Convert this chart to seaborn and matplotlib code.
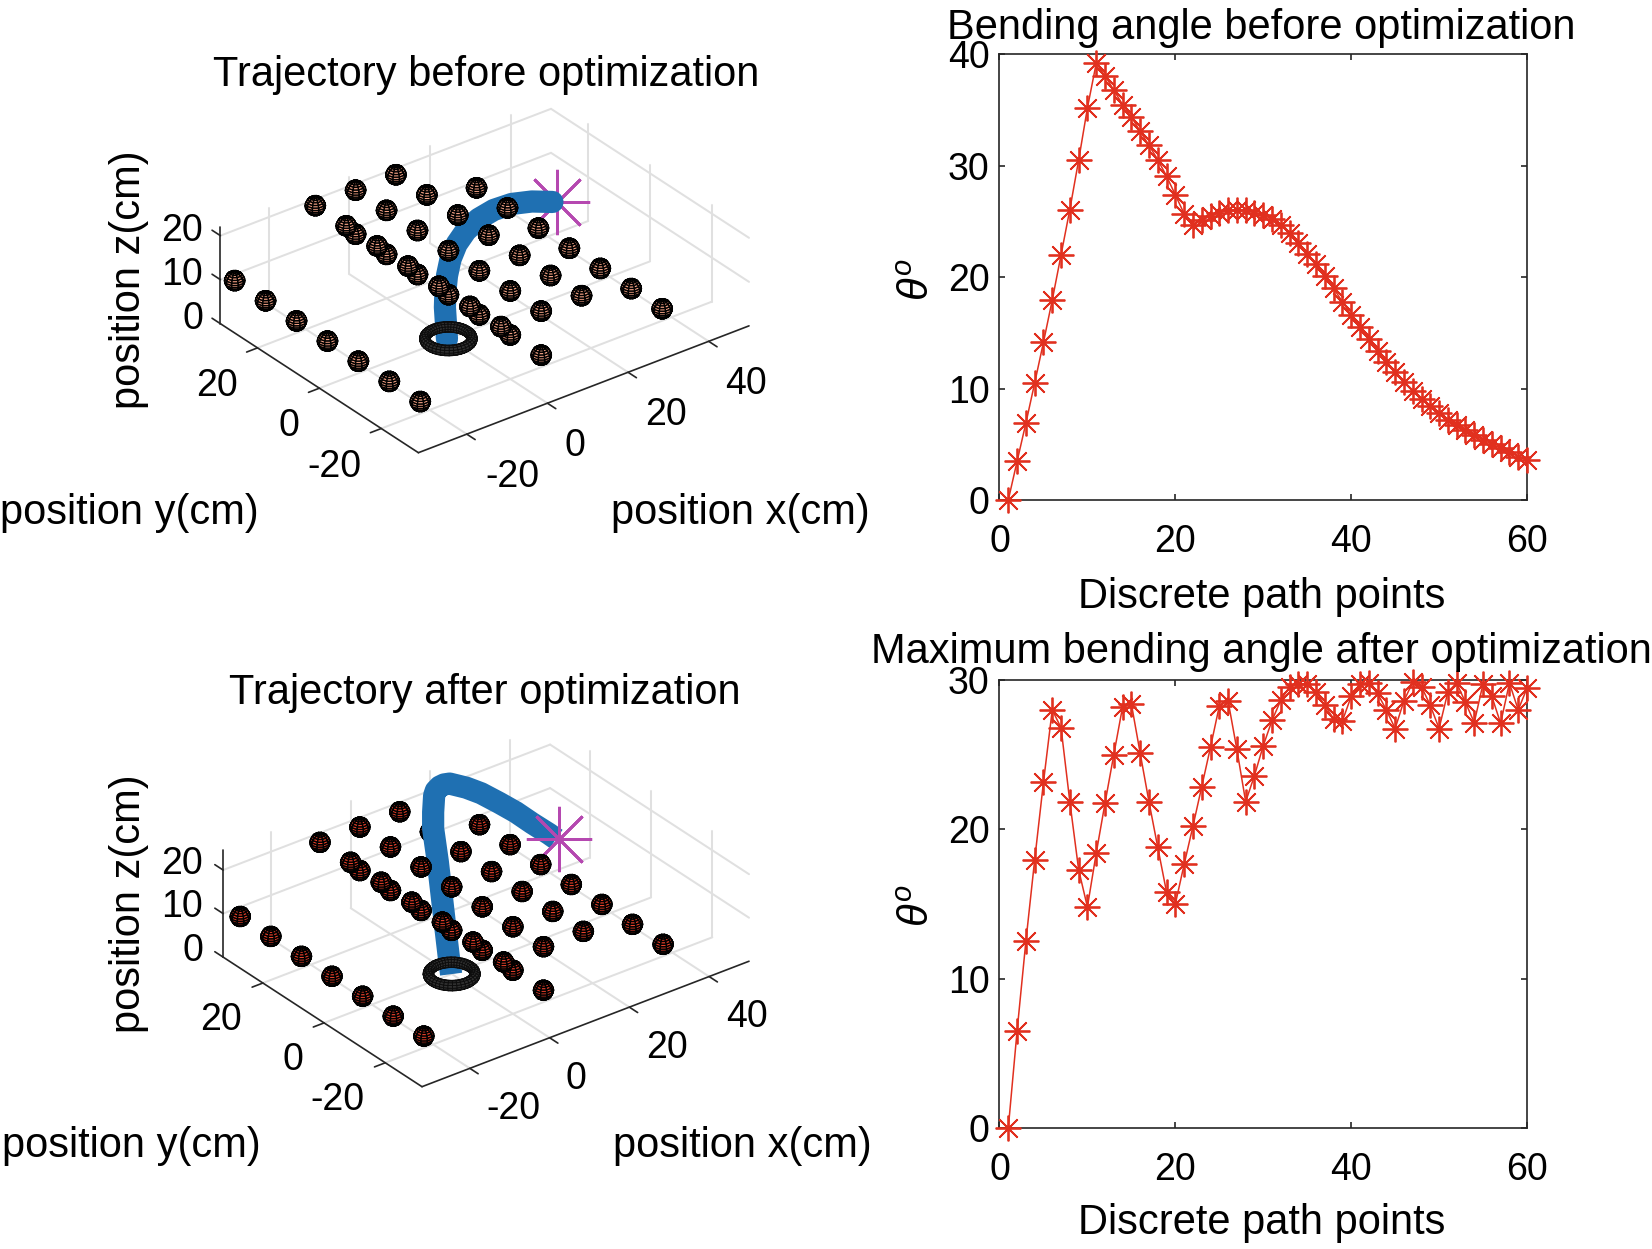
import numpy as np
import pandas as pd
import seaborn as sns
import matplotlib
matplotlib.use("Agg")
import matplotlib.pyplot as plt
from mpl_toolkits.mplot3d import proj3d

FIG_W, FIG_H = 1652, 1249

# theta readings, one per discrete path point
path_points = list(range(1, 61))
theta_before = [0, 3.47, 6.9, 10.5, 14.16, 17.95, 22, 26.08, 30.5, 35.2,
                39.2, 38.1, 36.8, 35.5, 34.4, 33.1, 31.85, 30.56, 29.07, 27.4,
                25.7, 24.7, 25.1, 25.5, 25.8, 26.0, 26.08, 26.0, 25.8, 25.6,
                25.2, 24.7, 24.0, 23.1, 22.1, 21.2, 20.1, 19.0, 17.8, 16.6,
                15.5, 14.5, 13.4, 12.4, 11.5, 10.6, 9.8, 9.05, 8.4, 7.8,
                7.2, 6.7, 6.25, 5.8, 5.4, 5.0, 4.66, 4.27, 3.9, 3.55]
theta_after = [0, 6.5, 12.5, 17.95, 23.15, 28.0, 26.8, 21.85, 17.3, 14.8,
               18.4, 21.75, 25.0, 28.2, 28.4, 25.1, 21.85, 18.8, 15.8, 15.0,
               17.65, 20.2, 22.85, 25.5, 28.25, 28.6, 25.35, 21.85, 23.6, 25.6,
               27.3, 28.65, 29.55, 29.75, 29.75, 29.2, 28.3, 27.4, 27.25, 28.9,
               29.7, 29.8, 29.1, 28.0, 26.75, 28.6, 29.85, 29.55, 28.3, 26.75,
               29.2, 29.8, 28.5, 27.15, 29.75, 28.9, 27.1, 29.8, 28.0, 29.45]

# obstacle rows: each (x, z) row runs along y
obstacle_x = [-30, -10, 0, 0, 10, 30]
obstacle_z = [10, 20, 10, 20, 20, 10]
obstacle_y = [-30, -20, -10, 0, 10, 20, 30]
obstacle_r = 2

# arm centre line, read in the y=0 plane
before_x = [-0.36, -0.61, -0.87, -0.74, -0.35, 0.52, 2.05, 4.31, 7.47, 11.26, 15.7, 20.7, 25.8]
before_z = [0.1, 3.6, 7.45, 11.2, 14.45, 17.9, 20.8, 23.0, 24.6, 25.3, 25.1, 23.9, 22.0]
after_x = [-0.15, -0.8, -1.77, -2.71, -3.48, -4.65, -4.65, -4.4, -3.98, -2.99, -1.9, -0.5,
           3.66, 7.39, 11.94, 16.09, 20.2, 24.4, 26.2]
after_z = [0, 4.8, 12.7, 20.6, 27, 35, 38.8, 42.5, 43.5, 44.1, 44.2, 43.9,
           41.5, 38.9, 35.1, 31.5, 27.5, 23.6, 21.8]
target_before = (27.05, 0, 21.45)
target_after = (26.8, 0, 21.5)

x_ticks_3d = [-20, 0, 20, 40]
y_ticks_3d = [-20, 0, 20]
z_ticks_3d = [0, 10, 20]

DARK = "#262626"
RED = "#e1301f"
BLUE = "#1f70b2"
MAGENTA = "#b548b0"
GRID = "#e0e0e0"
TICK_SIZE = 27
LABEL_SIZE = 30
ASTERISK = (8, 2, 0)

sns.set_theme(style="white")
plt.rcParams["font.family"] = ["Liberation Sans", "DejaVu Sans"]
plt.rcParams["mathtext.fontset"] = "custom"
plt.rcParams["mathtext.it"] = "Liberation Sans:italic"
plt.rcParams["mathtext.rm"] = "Liberation Sans"

fig = plt.figure(figsize=(FIG_W / 100, FIG_H / 100), dpi=100)


def put_text(px, py, text, size=TICK_SIZE, ha="center", rotation=0):
    fig.text(px / FIG_W, 1 - (py + 3) / FIG_H, text, fontsize=size, ha=ha, va="center",
             rotation=rotation, color="black")


def fit_box(ax, lims, corner, right_px):
    """Moves the 3d box so its front corner sits on a given pixel."""
    xlim, ylim, zlim = lims
    ax.set_xlim(*xlim, view_margin=0)
    ax.set_ylim(*ylim, view_margin=0)
    ax.set_zlim(*zlim, view_margin=0)
    ax.set_box_aspect((xlim[1] - xlim[0], ylim[1] - ylim[0], zlim[1] - zlim[0]))
    side = 500.0
    ax.set_position([0, 0, side / FIG_W, side / FIG_H])
    m = ax.get_proj()
    u0, v0, _ = proj3d.proj_transform(xlim[0], ylim[0], zlim[0], m)
    u1, v1, _ = proj3d.proj_transform(xlim[1], ylim[0], zlim[0], m)
    p0 = ax.transData.transform((u0, v0))
    p1 = ax.transData.transform((u1, v1))
    k = (right_px - corner[0]) / (p1[0] - p0[0])
    left = corner[0] - p0[0] * k
    bottom = (FIG_H - corner[1]) - p0[1] * k
    ax.set_position([left / FIG_W, bottom / FIG_H, side * k / FIG_W, side * k / FIG_H])


def line3d(ax, xs, ys, zs, **kw):
    ax.plot(xs, ys, zs, clip_on=False, **kw)


def draw_frame(ax, lims):
    xlim, ylim, zlim = lims
    grid = dict(color=GRID, lw=1.45, zorder=1)
    for t in x_ticks_3d:
        line3d(ax, [t, t], ylim, [0, 0], **grid)
        line3d(ax, [t, t], [ylim[1], ylim[1]], zlim, **grid)
    for t in y_ticks_3d:
        line3d(ax, xlim, [t, t], [0, 0], **grid)
        line3d(ax, [xlim[1], xlim[1]], [t, t], zlim, **grid)
    for t in z_ticks_3d[1:]:
        line3d(ax, xlim, [ylim[1], ylim[1]], [t, t], **grid)
        line3d(ax, [xlim[1], xlim[1]], ylim, [t, t], **grid)
    axis = dict(color=DARK, lw=1.2, zorder=1.5)
    line3d(ax, xlim, [ylim[0], ylim[0]], [0, 0], **axis)
    line3d(ax, [xlim[0], xlim[0]], ylim, [0, 0], **axis)
    line3d(ax, [xlim[0], xlim[0]], [ylim[1], ylim[1]], zlim, **axis)
    tick = 2.7
    for t in x_ticks_3d:
        line3d(ax, [t, t], [ylim[0], ylim[0] - tick], [0, 0], **axis)
    for t in y_ticks_3d:
        line3d(ax, [xlim[0], xlim[0] - tick], [t, t], [0, 0], **axis)
    for t in z_ticks_3d:
        line3d(ax, [xlim[0], xlim[0]], [ylim[1], ylim[1] + tick], [t, t], **axis)


def draw_obstacles(ax, face, behind_arm=()):
    u = np.linspace(0, 2 * np.pi, 11)
    v = np.linspace(0, np.pi, 13)
    sx = np.outer(np.cos(u), np.sin(v)) * obstacle_r
    sy = np.outer(np.sin(u), np.sin(v)) * obstacle_r
    sz = np.outer(np.ones_like(u), np.cos(v)) * obstacle_r
    centres = [(x, y, z) for x, z in zip(obstacle_x, obstacle_z) for y in obstacle_y]
    # far ones first, the view looks from +x, -y, +z
    centres.sort(key=lambda c: 0.527 * c[0] - 0.687 * c[1] + 0.5 * c[2])
    for c in centres:
        ax.plot_surface(sx + c[0], sy + c[1], sz + c[2], color=face, edgecolor="black",
                        linewidth=1.0, rstride=1, cstride=1, shade=False,
                        zorder=2.5 if c in behind_arm else 4, clip_on=False)


def draw_ring(ax):
    u = np.linspace(0, 2 * np.pi, 41)
    v = np.linspace(0, 2 * np.pi, 13)
    big, small = 4.65, 1.05
    rx = np.outer(big + small * np.cos(v), np.cos(u))
    ry = np.outer(big + small * np.cos(v), np.sin(u))
    rz = np.outer(small * np.sin(v), np.ones_like(u))
    ax.plot_surface(rx, ry, rz, color="#303030", edgecolor="#0c0c0c", linewidth=0.6,
                    rstride=1, cstride=1, shade=False, zorder=5, clip_on=False)


def scene(rect_lims, corner, right_px, arm_x, arm_z, target, face, capstyle, star_z, behind_arm=()):
    ax = fig.add_subplot(projection="3d", computed_zorder=False, proj_type="ortho")
    ax.view_init(elev=30, azim=-127.5)
    ax.set_axis_off()
    ax.patch.set_visible(False)
    xlim, ylim, zlim = rect_lims
    ax.set_xlim(*xlim, view_margin=0)
    ax.set_ylim(*ylim, view_margin=0)
    ax.set_zlim(*zlim, view_margin=0)
    draw_frame(ax, rect_lims)
    line3d(ax, arm_x, [0] * len(arm_x), arm_z, color=BLUE, lw=16, zorder=3,
           solid_capstyle=capstyle, solid_joinstyle="round")
    line3d(ax, [target[0]], [target[1]], [target[2]], color=MAGENTA, marker=ASTERISK,
           ms=47, mew=2, ls="none", zorder=star_z)
    draw_obstacles(ax, face, behind_arm)
    draw_ring(ax)
    fit_box(ax, rect_lims, corner, right_px)
    return ax


scene(((-32, 50), (-32, 32), (0, 22)), (418.4, 452.7), 749,
      before_x, before_z, target_before, "#f2a184", "round", 2)
scene(((-32, 50), (-32, 33), (0, 24.5)), (422, 1086.7), 749,
      after_x, after_z, target_after, "#e8402a", "butt", 3.5, behind_arm=[(10, 20, 20)])

# labels of the 3d panels
put_text(485.7, 71.6, "Trajectory before optimization", LABEL_SIZE)
put_text(484.7, 690, "Trajectory after optimization", LABEL_SIZE)

for t, py in zip(z_ticks_3d, [316, 271.8, 227.6]):
    put_text(203, py, str(t), ha="right")
for t, px, py in zip(y_ticks_3d, [334, 288.7, 217], [463.6, 423.5, 383.5]):
    put_text(px, py, str(t))
for t, px, py in zip(x_ticks_3d, [512, 575, 666, 746], [474, 442.5, 412, 381.4]):
    put_text(px, py, str(t))
put_text(129.6, 510, "position y(cm)", LABEL_SIZE)
put_text(740.7, 510, "position x(cm)", LABEL_SIZE)
put_text(129, 277, "position z(cm)", LABEL_SIZE, rotation=90)

for t, py in zip(z_ticks_3d, [948, 904, 861]):
    put_text(203, py, str(t), ha="right")
for t, px, py in zip(y_ticks_3d, [337, 293, 221], [1096.8, 1056.8, 1016.7]):
    put_text(px, py, str(t))
for t, px, py in zip(x_ticks_3d, [513, 576, 667, 747], [1106, 1076, 1045, 1013.6]):
    put_text(px, py, str(t))
put_text(131.7, 1143, "position y(cm)", LABEL_SIZE)
put_text(742.8, 1143, "position x(cm)", LABEL_SIZE)
put_text(129, 901, "position z(cm)", LABEL_SIZE, rotation=90)


def angle_panel(top_px, bottom_px, values, y_ticks, title, title_gap, xlabel_gap):
    ax = fig.add_axes([999.5 / FIG_W, 1 - bottom_px / FIG_H, 527.5 / FIG_W, (bottom_px - top_px) / FIG_H])
    df = pd.DataFrame({"point": path_points, "theta": values})
    sns.lineplot(data=df, x="point", y="theta", ax=ax, color=RED, linewidth=1.1, marker=ASTERISK,
                 markersize=18.5, markeredgewidth=1.3, markeredgecolor=RED, clip_on=False,
                 estimator=None, sort=False, zorder=5)
    ax.set_xlim(0, 60)
    ax.set_ylim(y_ticks[0], y_ticks[-1])
    ax.set_xticks([0, 20, 40, 60])
    ax.set_yticks(y_ticks)
    ax.tick_params(direction="in", top=True, right=True, left=True, bottom=True, length=4.5,
                   width=1.2, color=DARK, labelsize=TICK_SIZE, labelcolor="black", pad=7)
    ax.tick_params(axis="x", pad=17.5)
    for spine in ax.spines.values():
        spine.set_linewidth(1.2)
        spine.set_color(DARK)
    ax.set_xlabel("")
    ax.set_ylabel("")
    put_text(1261.7, top_px - title_gap, title, LABEL_SIZE)
    put_text(1261.7, bottom_px + xlabel_gap, "Discrete path points", LABEL_SIZE)
    put_text(918.5, (top_px + bottom_px) / 2 - 1, r"$\theta^o$", LABEL_SIZE, rotation=90)


angle_panel(54.5, 500, theta_before, [0, 10, 20, 30, 40], "Bending angle before optimization", 29.5, 94)
angle_panel(680, 1128, theta_after, [0, 10, 20, 30], "Maximum bending angle after optimization", 30.5, 92)

fig.savefig("out.png", dpi=100)
